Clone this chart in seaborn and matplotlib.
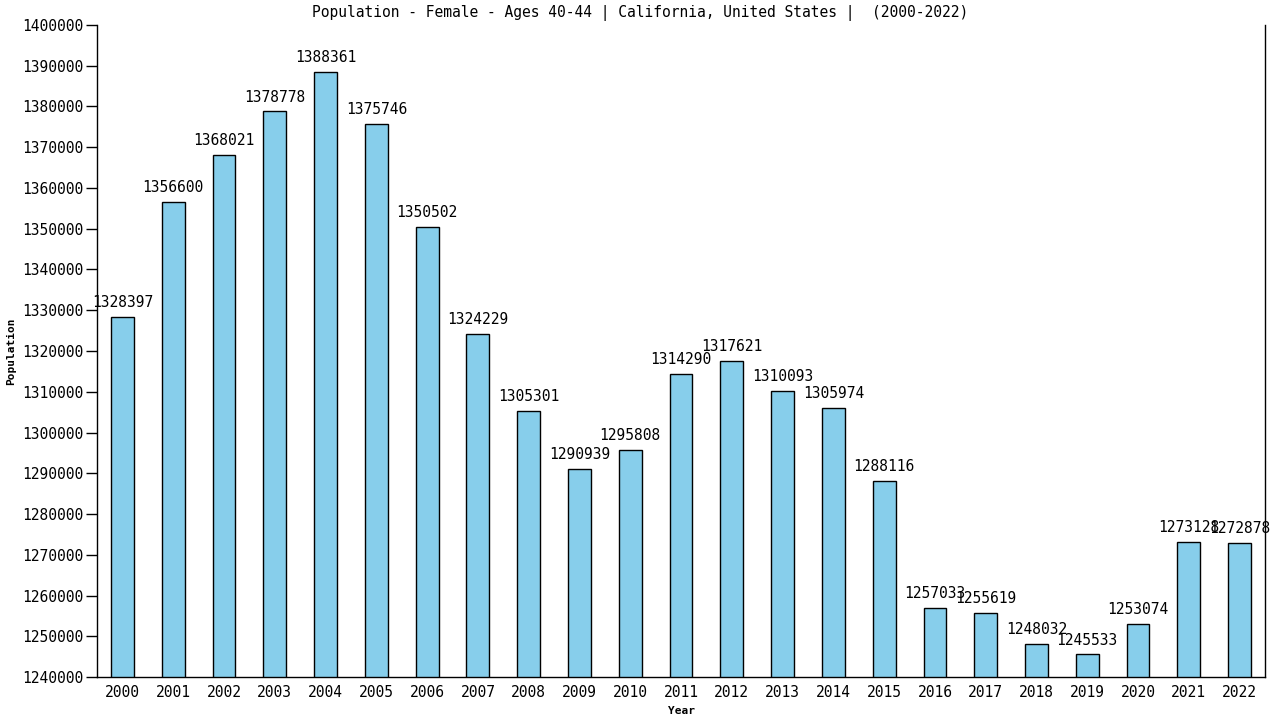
import matplotlib
matplotlib.use("Agg")
import matplotlib.pyplot as plt
import seaborn as sns
import pandas as pd

years = [str(y) for y in range(2000, 2023)]
population = [1328397, 1356600, 1368021, 1378778, 1388361, 1375746, 1350502, 1324229,
              1305301, 1290939, 1295808, 1314290, 1317621, 1310093, 1305974, 1288116,
              1257033, 1255619, 1248032, 1245533, 1253074, 1273128, 1272878]
title = "Population - Female - Ages 40-44 | California, United States |  (2000-2022)"

sns.set_theme(style="white")
plt.rcParams['font.family'] = ['DejaVu Sans Mono', 'DejaVu Sans']
plt.rcParams.update({'text.color': 'black', 'axes.labelcolor': 'black',
                     'xtick.color': 'black', 'ytick.color': 'black'})

df = pd.DataFrame({"Year": years, "Population": population})
fig = plt.figure(figsize=(12.8, 7.2), dpi=100)
ax = fig.add_axes([0.0758, 0.0597, 0.9125, 0.9056])
sns.barplot(data=df, x="Year", y="Population", color="#87CEEB", saturation=1,
            width=0.45, edgecolor="black", linewidth=1, ax=ax)
ax.set_ylim(1240000, 1400000)
ax.set_yticks(range(1240000, 1400001, 10000))
ax.set_yticklabels([str(v) for v in range(1240000, 1400001, 10000)], fontsize=10.5)
ax.set_xlim(-0.5, len(years) - 0.5)
for lbl in ax.get_xticklabels():
    lbl.set_fontsize(10.5)
ax.tick_params(axis='y', direction='out', length=8, width=1, color='black', left=True, pad=2)
ax.tick_params(axis='x', length=0, pad=6)
for s in ['left', 'bottom', 'right']:
    ax.spines[s].set_visible(True)
    ax.spines[s].set_color('black')
    ax.spines[s].set_linewidth(1)
ax.spines['top'].set_visible(False)
ax.set_xlabel("Year", fontsize=8, fontweight='bold')
ax.set_ylabel("Population", fontsize=8, fontweight='bold')
for i, v in enumerate(population):
    ax.annotate(str(v), (i, v), xytext=(0, 5), textcoords='offset points',
                ha='center', va='bottom', fontsize=10.5, color='black')
fig.suptitle(title, y=0.993, va='top', fontsize=10.5)
fig.savefig("out.png", dpi=100)
